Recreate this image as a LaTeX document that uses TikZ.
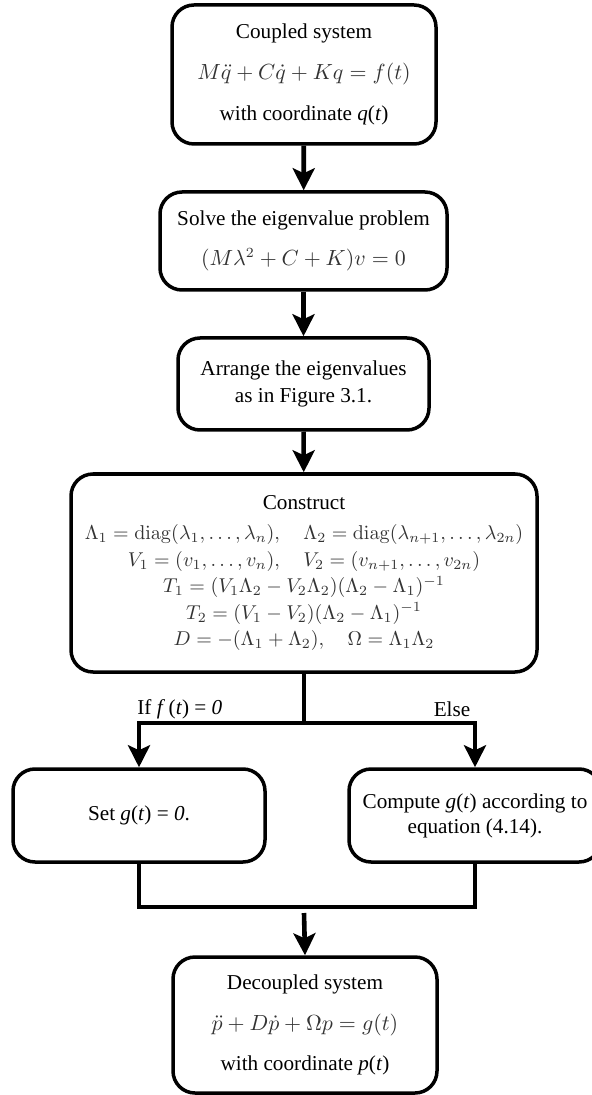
\documentclass[tikz,border=0pt]{standalone}
\usepackage{amsmath}
\usepackage[no-math]{fontspec}
\setmainfont{Liberation Serif}
\usetikzlibrary{arrows.meta}
\newcommand{\mm}[1]{\textcolor{black!80}{$#1$}}
\newcommand{\cm}[1]{{\fontsize{10}{12}\selectfont\textcolor{black!80}{$#1$}}}
\tikzset{
  box/.style={draw=black, line width=1.75pt, rounded corners=11pt, align=center, inner sep=0pt, font=\fontsize{10.6}{12.7}\selectfont},
  conn/.style={line width=2.3pt},
  arr/.style={line width=2.3pt, -{Stealth[length=11pt,width=11pt,inset=2.5pt]}},
  lbl/.style={font=\fontsize{10.6}{12.7}\selectfont, inner sep=0pt}
}
\begin{document}
\begin{tikzpicture}[x=0.5pt,y=-0.5pt]
\useasboundingbox (0,0) rectangle (592,1095);
\node[box, minimum width=132pt, minimum height=69.5pt] (b1) at (304,74.5)
  {Coupled system\\[7.6pt]\mm{M\ddot q + C\dot q + Kq = f(t)}\\[7.6pt]with coordinate \textit{q}(\textit{t})};
\node[box, minimum width=143.5pt, minimum height=49pt] (b2) at (303.5,241)
  {Solve the eigenvalue problem\\[7pt]\mm{(M\lambda^2 + C + K)v = 0}};
\node[box, minimum width=125.5pt, minimum height=46pt] (b3) at (303.5,384)
  {Arrange the eigenvalues\\[0.8pt]as in Figure 3.1.};
\node[box, minimum width=233pt, minimum height=99pt] (b4) at (304,573)
  {Construct\\[2.5pt]
   \cm{\Lambda_1 = \operatorname{diag}(\lambda_1,\ldots,\lambda_n), \quad \Lambda_2 = \operatorname{diag}(\lambda_{n+1},\ldots,\lambda_{2n})}\\[0.5pt]
   \cm{V_1 = (v_1,\ldots,v_n), \quad V_2 = (v_{n+1},\ldots,v_{2n})}\\[0.5pt]
   \cm{T_1 = (V_1\Lambda_2 - V_2\Lambda_2)(\Lambda_2-\Lambda_1)^{-1}}\\[0.5pt]
   \cm{T_2 = (V_1 - V_2)(\Lambda_2-\Lambda_1)^{-1}}\\[0.5pt]
   \cm{D = -(\Lambda_1+\Lambda_2), \quad \Omega = \Lambda_1\Lambda_2}};
\node[box, minimum width=126pt, minimum height=46.5pt] (set) at (139,815.5)
  {Set \textit{g}(\textit{t}) = \textit{0}.};
\node[box, minimum width=126pt, minimum height=46.5pt] (comp) at (475,815.5)
  {Compute \textit{g}(\textit{t}) according to\\[-0.2pt]equation (4.14).};
\node[box, minimum width=132pt, minimum height=68pt] (dec) at (305,1025)
  {Decoupled system\\[7.6pt]\mm{\ddot p + D\dot p + \Omega p = g(t)}\\[7.6pt]with coordinate \textit{p}(\textit{t})};
\coordinate (split) at (304,723);
\coordinate (merge) at (304,907);
\coordinate (mergeout) at (304,913);
\draw[arr] (b1) -- (b2);
\draw[arr] (b2) -- (b3);
\draw[arr] (b3) -- (b4);
\draw[conn] (b4.south) -- (split);
\draw[arr] (split) -| (set.north);
\draw[arr] (split) -| (comp.north);
\draw[conn] (set.south) |- (merge) -| (comp.south);
\draw[arr] (mergeout) -- (dec.north);
\node[lbl, anchor=west] (lif) at (137,709) {If \textit{f}\,(\textit{t}) = \textit{0}};
\node[lbl] (lelse) at (452,709) {Else};
\end{tikzpicture}
\end{document}
